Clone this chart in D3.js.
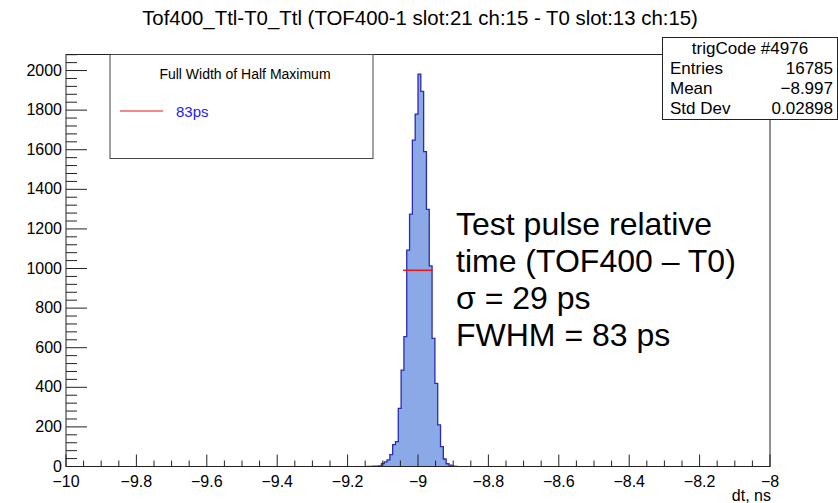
<!DOCTYPE html>
<html>
<head>
    <meta charset="utf-8">
    <style>
        body { margin: 0; background: #fff; }
        text { font-family: "Liberation Sans", Arial, sans-serif; }
        .tick-label { font-size: 16px; }
    </style>
    <script src="https://cdnjs.cloudflare.com/ajax/libs/d3/7.8.5/d3.min.js"></script>
</head>
<body>
    <svg width="838" height="503"></svg>
    <script>
        // histogram bins (lower edge, ns) and counts
        var binLow = [-9.144, -9.136, -9.128, -9.120, -9.112, -9.104, -9.096, -9.088, -9.080, -9.072,
                      -9.064, -9.056, -9.048, -9.040, -9.032, -9.024, -9.016, -9.008, -9.000, -8.992,
                      -8.984, -8.976, -8.968, -8.960, -8.952, -8.944, -8.936, -8.928, -8.920, -8.912,
                      -8.904, -8.896];
        var counts = [1, 1, 2, 2, 3, 15, 23, 33, 60, 110,
                      126, 294, 487, 656, 1093, 1275, 1649, 1780, 1982, 1895,
                      1590, 1299, 1013, 647, 420, 210, 100, 38, 14, 7,
                      2, 1];
        var binWidth = 0.008;

        var xTicks = [-10, -9.8, -9.6, -9.4, -9.2, -9, -8.8, -8.6, -8.4, -8.2, -8];
        var yTicks = [0, 200, 400, 600, 800, 1000, 1200, 1400, 1600, 1800, 2000];

        var fwhmLine = [-9.042, -8.959];
        var fwhmLevel = 991;

        var statsLabels = ["Entries", "Mean", "Std Dev"];
        var statsValues = ["16785", "\u22128.997", "0.02898"];

        var noteLines = ["Test pulse relative", "time (TOF400 \u2013 T0)", "\u03c3 = 29 ps", "FWHM = 83 ps"];

        var svg = d3.select("svg"),
            width = +svg.attr("width"),
            height = +svg.attr("height");

        var frameL = 66, frameR = 770, frameT = 54.5, frameB = 466.5;

        var x = d3.scaleLinear().domain([-10, -8]).range([frameL, frameR]);
        var y = d3.scaleLinear().domain([0, 2081]).range([frameB, frameT]);

        // title
        svg.append("text")
           .attr("x", 420).attr("y", 25)
           .attr("text-anchor", "middle")
           .style("font-size", "20.4px")
           .text("Tof400_Ttl-T0_Ttl (TOF400-1 slot:21 ch:15 - T0 slot:13 ch:15)");

        // histogram step outline
        var pts = [[binLow[0], 0]];
        binLow.forEach(function(lo, i) {
            pts.push([lo, counts[i]]);
            pts.push([lo + binWidth, counts[i]]);
        });
        pts.push([binLow[binLow.length - 1] + binWidth, 0]);

        var area = d3.area()
                     .x(function(d) { return x(d[0]); })
                     .y0(y(0))
                     .y1(function(d) { return y(d[1]); });
        var line = d3.line()
                     .x(function(d) { return x(d[0]); })
                     .y(function(d) { return y(d[1]); });

        svg.append("path")
           .attr("d", area(pts))
           .attr("fill", "#8aa9e6");
        svg.append("path")
           .attr("d", line(pts))
           .attr("fill", "none")
           .attr("stroke", "#2b2bb3")
           .attr("stroke-width", 1.3);

        // FWHM marker
        svg.append("line")
           .attr("x1", x(fwhmLine[0])).attr("x2", x(fwhmLine[1]))
           .attr("y1", y(fwhmLevel)).attr("y2", y(fwhmLevel))
           .attr("stroke", "#ee1111").attr("stroke-width", 1.5);

        // frame
        svg.append("rect")
           .attr("x", frameL).attr("y", frameT)
           .attr("width", frameR - frameL).attr("height", frameB - frameT)
           .attr("fill", "none").attr("stroke", "#222").attr("stroke-width", 1);

        // x axis ticks (inside, upward)
        var xMinor = d3.range(0, 41).map(function(i) { return -10 + i * 0.05; });
        svg.append("g").selectAll("line").data(xMinor).enter().append("line")
           .attr("x1", function(d) { return x(d); }).attr("x2", function(d) { return x(d); })
           .attr("y1", frameB).attr("y2", function(d, i) { return frameB - (i % 4 === 0 ? 12 : 6); })
           .attr("stroke", "#222");
        svg.append("g").selectAll("text").data(xTicks).enter().append("text")
           .attr("class", "tick-label")
           .attr("x", function(d) { return x(d); })
           .attr("y", 487)
           .attr("text-anchor", "middle")
           .text(function(d) { return String(d).replace("-", "\u2212"); });

        // axis title, right-aligned at axis end
        svg.append("text")
           .attr("x", frameR + 1).attr("y", 501)
           .attr("text-anchor", "end")
           .style("font-size", "16px")
           .text("dt, ns");

        // y axis ticks (inside, rightward)
        var yMinor = d3.range(0, 53).map(function(i) { return i * 40; });
        svg.append("g").selectAll("line").data(yMinor).enter().append("line")
           .attr("x1", frameL).attr("x2", function(d, i) { return frameL + (i % 5 === 0 ? 21 : 11); })
           .attr("y1", function(d) { return y(d); }).attr("y2", function(d) { return y(d); })
           .attr("stroke", "#222");
        svg.append("g").selectAll("text").data(yTicks).enter().append("text")
           .attr("class", "tick-label")
           .attr("x", 62)
           .attr("y", function(d) { return y(d) + 5; })
           .attr("text-anchor", "end")
           .text(function(d) { return d; });

        // legend
        var leg = svg.append("g");
        leg.append("rect")
           .attr("x", 110).attr("y", 54.5).attr("width", 263).attr("height", 104)
           .attr("fill", "#fff").attr("stroke", "#444");
        leg.append("text")
           .attr("x", 245).attr("y", 79)
           .attr("text-anchor", "middle")
           .style("font-size", "14px")
           .text("Full Width of Half Maximum");
        leg.append("line")
           .attr("x1", 120).attr("x2", 163).attr("y1", 111).attr("y2", 111)
           .attr("stroke", "#ee1111").attr("stroke-width", 1);
        leg.append("text")
           .attr("x", 176).attr("y", 116.5)
           .style("font-size", "15px")
           .attr("fill", "#1a1aff")
           .text("83ps");

        // stats box
        var st = svg.append("g");
        st.append("rect")
          .attr("x", 662.5).attr("y", 37.5).attr("width", 175).attr("height", 82)
          .attr("fill", "#fff").attr("stroke", "#222");
        st.append("text")
          .attr("x", 750).attr("y", 54)
          .attr("text-anchor", "middle")
          .style("font-size", "17px")
          .text("trigCode #4976");
        statsLabels.forEach(function(lab, i) {
            st.append("text")
              .attr("x", 670).attr("y", 74 + i * 20)
              .style("font-size", "17px")
              .text(lab);
            st.append("text")
              .attr("x", 833).attr("y", 74 + i * 20)
              .attr("text-anchor", "end")
              .style("font-size", "17px")
              .text(statsValues[i]);
        });

        // annotation
        svg.append("g").selectAll("text").data(noteLines).enter().append("text")
           .attr("x", 456)
           .attr("y", function(d, i) { return 235 + i * 37; })
           .style("font-size", "32px")
           .text(function(d) { return d; });
    </script>
</body>
</html>
